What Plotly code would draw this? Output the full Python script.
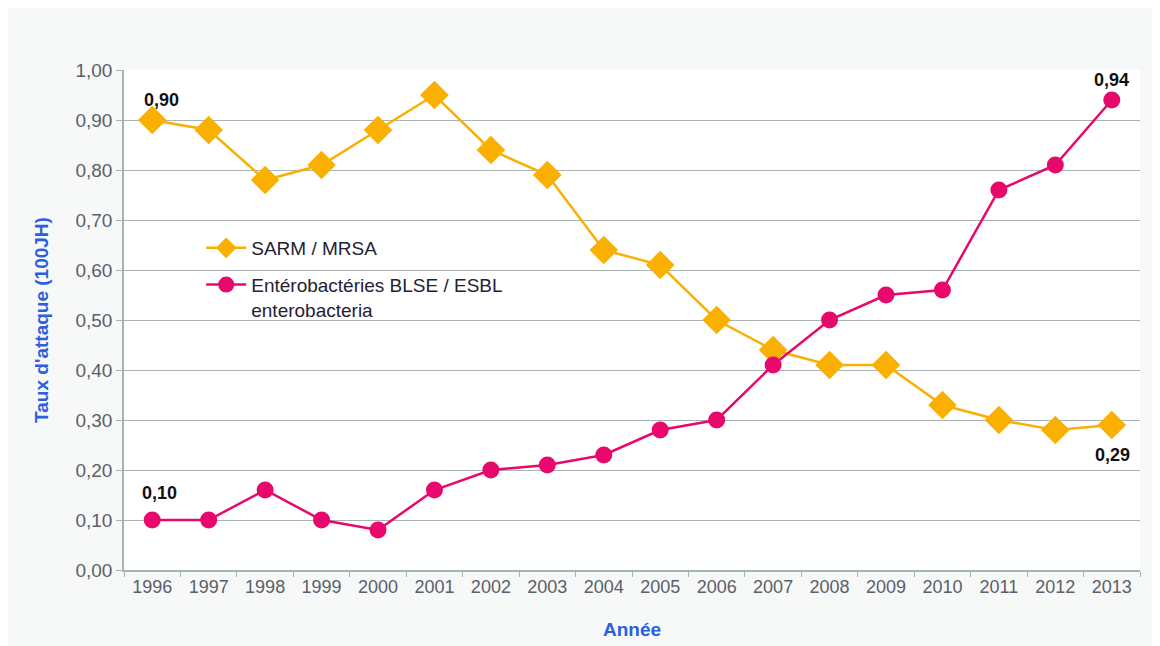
import plotly.graph_objects as go

years = ["1996", "1997", "1998", "1999", "2000", "2001", "2002", "2003", "2004",
         "2005", "2006", "2007", "2008", "2009", "2010", "2011", "2012", "2013"]
sarm = [0.90, 0.88, 0.78, 0.81, 0.88, 0.95, 0.84, 0.79, 0.64,
        0.61, 0.50, 0.44, 0.41, 0.41, 0.33, 0.30, 0.28, 0.29]
esbl = [0.10, 0.10, 0.16, 0.10, 0.08, 0.16, 0.20, 0.21, 0.23,
        0.28, 0.30, 0.41, 0.50, 0.55, 0.56, 0.76, 0.81, 0.94]
y_ticks = [0.0, 0.1, 0.2, 0.3, 0.4, 0.5, 0.6, 0.7, 0.8, 0.9, 1.0]

ORANGE = "#f9b000"
PINK = "#e8086c"
BLUE = "#2a5fe0"
GRID = "#a8b4b4"
FONT = "Arial, Liberation Sans, sans-serif"

def fmt(v):
    return f"{v:.2f}".replace(".", ",")

fig = go.Figure()
fig.add_trace(go.Scatter(
    x=years, y=sarm, mode="lines+markers", name="SARM / MRSA",
    legendgroup="sarm",
    line=dict(color=ORANGE, width=2.5),
    marker=dict(symbol="diamond", size=22, color=ORANGE),
))
fig.add_trace(go.Scatter(
    x=years, y=esbl, mode="lines+markers",
    name="Entérobactéries BLSE / ESBL<br>enterobacteria",
    legendgroup="esbl",
    line=dict(color=PINK, width=2.5),
    marker=dict(symbol="circle", size=17, color=PINK),
))

ann_font = dict(family=FONT, size=18, color="#111111")
last = len(years) - 1
labels = [
    (0, sarm[0], 9, 20),
    (0, esbl[0], 7, 27),
    (last, esbl[last], 0, 20),
    (last, sarm[last], 1, -30),
]
for xi, y, dx, dy in labels:
    fig.add_annotation(
        x=xi, y=y, xref="x", yref="y", text=f"<b>{fmt(y)}</b>", showarrow=False,
        xshift=dx, yshift=dy, font=ann_font,
    )

fig.update_layout(
    width=1144, height=638,
    margin=dict(l=116, r=12, t=62, b=76),
    paper_bgcolor="#f7f8f8",
    plot_bgcolor="#ffffff",
    separators=", ",
    font=dict(family=FONT, size=18, color="#5a5f6a"),
    showlegend=True,
    legend=dict(
        x=0.076, y=0.682, xanchor="left", yanchor="top",
        bgcolor="rgba(0,0,0,0)", valign="top",
        font=dict(family=FONT, size=19, color="#222233"),
        tracegroupgap=9, itemwidth=40,
    ),
    xaxis=dict(
        type="category", range=[-0.5, 17.5],
        showline=True, linecolor=GRID, linewidth=1.5,
        ticks="outside", tickson="boundaries", ticklen=5, tickcolor=GRID,
        showgrid=False, automargin=False,
        tickfont=dict(size=18),
        title=dict(text="<b>Année</b>", font=dict(color=BLUE, size=19), standoff=26),
    ),
    yaxis=dict(
        range=[0, 1.0], tickvals=y_ticks, tickformat=".2f",
        showline=True, linecolor=GRID, linewidth=1.5,
        ticks="outside", ticklen=6, tickcolor=GRID,
        showgrid=True, gridcolor=GRID, gridwidth=1.2,
        zeroline=False, automargin=False,
        tickfont=dict(size=19),
        title=dict(text="<b>Taux d'attaque (100JH)</b>", font=dict(color=BLUE, size=19), standoff=22),
    ),
)

fig.write_html("out.html")
